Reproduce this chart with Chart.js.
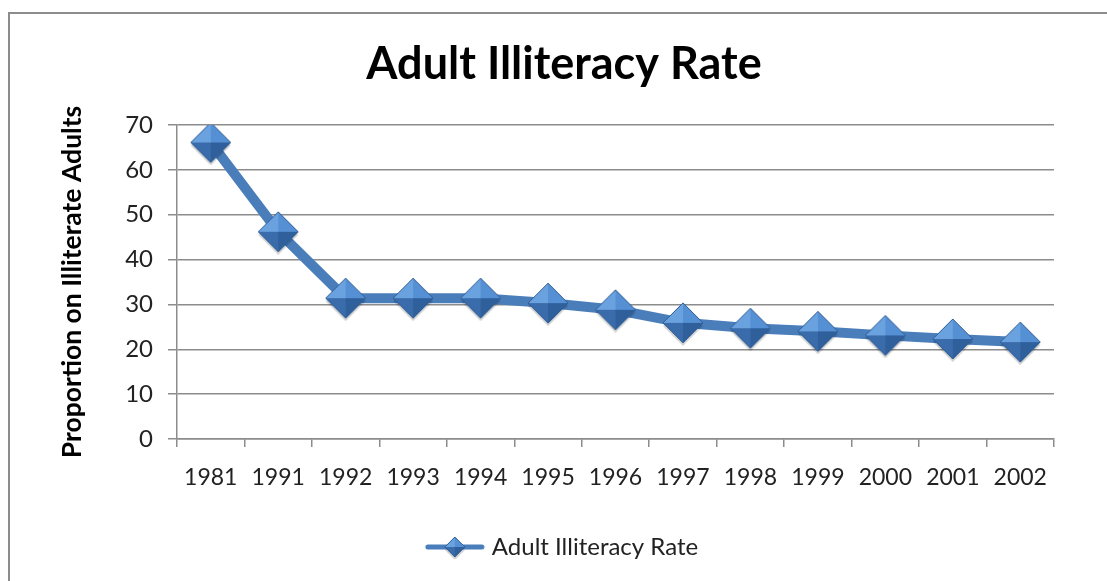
<!DOCTYPE html>
<html>
<head>
<meta charset="utf-8">
<script src="https://cdn.jsdelivr.net/npm/chart.js@4.4.1/dist/chart.umd.min.js"></script>
<style>
  html, body { margin: 0; padding: 0; background: #fff; }
  #wrap { position: relative; width: 1107px; height: 581px; }
  #frame { position: absolute; left: 8px; top: 12px; right: 0; bottom: 0;
           border-left: 2px solid #8c8c8c; border-top: 2px solid #8c8c8c; }
  canvas { position: absolute; left: 0; top: 0; }
</style>
</head>
<body>
<div id="wrap">
  <div id="frame"></div>
  <canvas id="chart" width="1107" height="581"></canvas>
</div>
<script>
const years = ["1981", "1991", "1992", "1993", "1994", "1995", "1996",
               "1997", "1998", "1999", "2000", "2001", "2002"];
const illiteracyRate = [66.1, 46.2, 31.4, 31.4, 31.4, 30.3, 28.8,
                        25.9, 24.7, 24.0, 23.1, 22.3, 21.6];
const yTicks = [0, 10, 20, 30, 40, 50, 60, 70];

const BLUE = "#4a7ebb";

// beveled diamond marker like the Office 2007 style
function makeDiamond(r) {
  const s = r * 2 + 6;
  const cv = document.createElement("canvas");
  cv.width = s; cv.height = s;
  const c = cv.getContext("2d");
  const m = s / 2;
  // soft shadow
  c.fillStyle = "rgba(0,0,0,0.18)";
  c.beginPath();
  c.moveTo(m, m - r + 3); c.lineTo(m + r, m + 3); c.lineTo(m, m + r + 3); c.lineTo(m - r, m + 3);
  c.closePath(); c.fill();
  const face = (pts, col) => {
    c.fillStyle = col;
    c.beginPath();
    c.moveTo(pts[0][0], pts[0][1]);
    for (let i = 1; i < pts.length; i++) c.lineTo(pts[i][0], pts[i][1]);
    c.closePath(); c.fill();
  };
  const T = [m, m - r], R = [m + r, m], B = [m, m + r], L = [m - r, m], C = [m, m];
  face([L, T, C], "#6aa2e0");
  face([T, R, C], "#5690d4");
  face([L, B, C], "#3a6cab");
  face([R, B, C], "#30609c");
  c.strokeStyle = "#2f5d95";
  c.lineWidth = 1;
  c.beginPath();
  c.moveTo(T[0], T[1]); c.lineTo(R[0], R[1]); c.lineTo(B[0], B[1]); c.lineTo(L[0], L[1]);
  c.closePath(); c.stroke();
  return cv;
}

function makeLegendIcon() {
  const cv = document.createElement("canvas");
  cv.width = 62; cv.height = 24;
  const c = cv.getContext("2d");
  c.strokeStyle = BLUE;
  c.lineWidth = 5;
  c.lineCap = "round";
  c.beginPath(); c.moveTo(4, 12); c.lineTo(58, 12); c.stroke();
  const d = makeDiamond(10);
  c.drawImage(d, 31 - d.width / 2, 12 - d.height / 2);
  return cv;
}

const marker = makeDiamond(20);
const legendIcon = makeLegendIcon();

new Chart(document.getElementById("chart"), {
  type: "line",
  data: {
    labels: years,
    datasets: [{
      label: "Adult Illiteracy Rate",
      data: illiteracyRate,
      borderColor: BLUE,
      backgroundColor: BLUE,
      borderWidth: 10,
      tension: 0,
      pointStyle: marker,
      pointRadius: 20,
      pointHoverRadius: 20
    }]
  },
  options: {
    responsive: false,
    animation: false,
    layout: { padding: { left: 74, right: 53, top: 0, bottom: 12 } },
    plugins: {
      tooltip: { enabled: false },
      title: {
        display: true,
        text: "Adult Illiteracy Rate",
        color: "#000",
        font: { family: "Lato", size: 45, weight: "bold" },
        padding: { top: 37, bottom: 34 }
      },
      legend: {
        position: "bottom",
        labels: {
          usePointStyle: true,
          pointStyleWidth: 50,
          color: "#222",
          font: { family: "Lato", size: 24 },
          padding: 10,
          generateLabels: (chart) => [{
            text: chart.data.datasets[0].label,
            pointStyle: legendIcon,
            fillStyle: BLUE,
            strokeStyle: BLUE,
            lineWidth: 0,
            datasetIndex: 0,
            fontColor: "#222"
          }]
        }
      }
    },
    scales: {
      x: {
        offset: true,
        afterFit: (s) => { s.height = 86; },
        grid: { display: true, offset: true, drawOnChartArea: false,
                color: "#8c8c8c", lineWidth: 1.5, tickLength: 8 },
        border: { color: "#8c8c8c", width: 1.5 },
        ticks: { color: "#222", font: { family: "Lato", size: 23 }, padding: 17, maxRotation: 0 }
      },
      y: {
        min: 0,
        max: 70,
        afterFit: (s) => { s.width = 103; },
        afterBuildTicks: (s) => { s.ticks = yTicks.map(v => ({ value: v })); },
        title: {
          display: true,
          text: "Proportion on Illiterate Adults",
          color: "#000",
          font: { family: "Lato", size: 26.5, weight: "bold" },
          padding: { top: -17, bottom: 0 }
        },
        grid: { color: "#8c8c8c", lineWidth: 1.5, tickLength: 9 },
        border: { color: "#8c8c8c", width: 1.5 },
        ticks: { color: "#222", font: { family: "Lato", size: 24 }, padding: 15 }
      }
    }
  }
});
</script>
</body>
</html>
